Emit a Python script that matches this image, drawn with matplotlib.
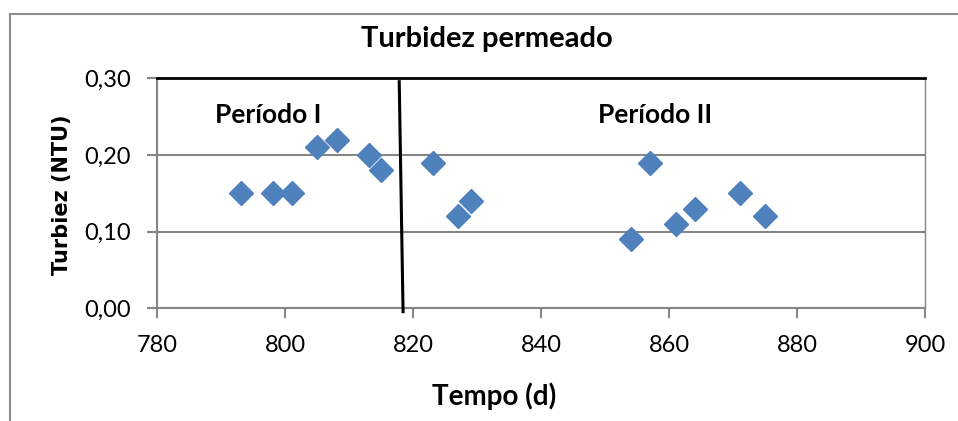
import matplotlib.pyplot as plt
from matplotlib.lines import Line2D
from matplotlib.ticker import FuncFormatter, MultipleLocator

# Turbidity of the permeate over time (days of operation)
tempo = [793, 798, 801, 805, 808, 813, 815, 823, 827, 829,
         854, 857, 861, 864, 871, 875]
turbidez = [0.15, 0.15, 0.15, 0.21, 0.22, 0.20, 0.18, 0.19, 0.12, 0.14,
            0.09, 0.19, 0.11, 0.13, 0.15, 0.12]

# boundary between the two periods (hand-drawn, slightly slanted)
divisao_x = [817.8, 818.4]
divisao_y = [0.2956, -0.0044]

periodos = ['Período I', 'Período II']
periodos_x = [797.3, 857.8]
periodos_y = [0.252, 0.252]

W, H = 958, 421
plt.rcParams['font.family'] = ['Lato', 'DejaVu Sans']

fig = plt.figure(figsize=(W / 100, H / 100), dpi=100)
ax = fig.add_axes([157.3 / W, 1 - 308.3 / H, 768 / W, 230 / H])

grey = '#868686'
ax.set_xlim(780, 900)
ax.set_ylim(0, 0.30)
ax.xaxis.set_major_locator(MultipleLocator(20))
ax.yaxis.set_major_locator(MultipleLocator(0.10))
ax.yaxis.set_major_formatter(FuncFormatter(lambda v, p: f'{v:.2f}'.replace('.', ',')))
ax.grid(axis='y', color=grey, lw=1.5)
ax.set_axisbelow(True)

for s in ['left', 'bottom', 'right']:
    ax.spines[s].set_color(grey)
    ax.spines[s].set_linewidth(1.5)
ax.spines['right'].set_linewidth(1.0)
ax.spines['top'].set_color('black')
ax.spines['top'].set_linewidth(2)

ax.tick_params(direction='out', length=7, width=1.5, color=grey,
               labelsize=17, pad=12)
ax.tick_params(axis='y', right=False)

ax.plot(tempo, turbidez, linestyle='none', marker='D', ms=12,
        color='#4F81BD', mec='#4F81BD', zorder=3)
ax.plot(divisao_x, divisao_y, color='black', lw=2.2, clip_on=False, zorder=4)

for txt, x, y in zip(periodos, periodos_x, periodos_y):
    ax.text(x, y, txt, ha='center', va='center', fontsize=19, fontweight='bold')

fig.text(487 / W, 1 - 39 / H, 'Turbidez permeado', ha='center', va='center',
         fontsize=21, fontweight='bold')
fig.text(494 / W, 1 - 396 / H, 'Tempo (d)', ha='center', va='center',
         fontsize=20, fontweight='bold')
fig.text(62 / W, 1 - 195 / H, 'Turbiez (NTU)', ha='center', va='center',
         rotation=90, fontsize=15, fontweight='bold', family='DejaVu Sans')

# outer chart frame (left and top edges visible)
fig.add_artist(Line2D([9.5 / W, 9.5 / W], [0, 1 - 13.5 / H], color='#8c8c8c', lw=1.5))
fig.add_artist(Line2D([9.5 / W, 1], [1 - 13.5 / H, 1 - 13.5 / H], color='#8c8c8c', lw=1.5))

fig.savefig('out.png', dpi=100)
